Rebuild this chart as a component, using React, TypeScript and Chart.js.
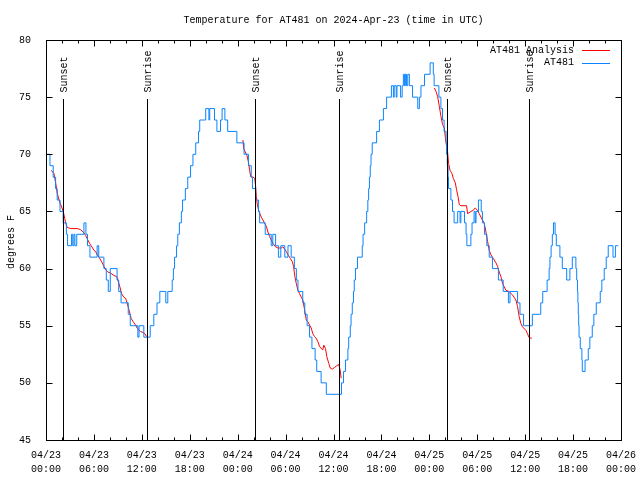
import { useEffect, useRef } from 'react';
import { Chart, registerables } from 'chart.js';

Chart.register(...registerables);

const TITLE = 'Temperature for AT481 on 2024-Apr-23 (time in UTC)';
const Y_LABEL = 'degrees F';

const xTickLabels: string[][] = [
  ['04/23', '00:00'], ['04/23', '06:00'], ['04/23', '12:00'], ['04/23', '18:00'],
  ['04/24', '00:00'], ['04/24', '06:00'], ['04/24', '12:00'], ['04/24', '18:00'],
  ['04/25', '00:00'], ['04/25', '06:00'], ['04/25', '12:00'], ['04/25', '18:00'],
  ['04/26', '00:00'],
];

// hours since 04/23 00:00 UTC
const eventHours = [2.15, 12.63, 26.2, 36.66, 50.16, 60.54];
const eventLabels = ['Sunset', 'Sunrise', 'Sunset', 'Sunrise', 'Sunset', 'Sunrise'];

const seriesNames = ['AT481 Analysis', 'AT481'];
const seriesColors = ['#ff0000', '#0a84ff'];

// Analysis (red), null = gap
const analysisHours = [
  0.66, 1.0, 1.09, 1.21, 1.41, 1.63, 1.84, 2.16, 2.34, 2.46, 2.66, 3.09, 3.91, 4.34, 4.66, 4.96,
  5.16, 5.46, 5.66, 6.0, 6.21, 6.41, 6.63, 6.84, 7.04, 7.25, 7.46, 7.75, 8.09, 8.5, 8.84, 9.0,
  9.25, 9.46, 9.75, 9.96, 10.16, 10.38, 10.5, 10.66, 10.91, 11.21, 11.41, 11.84, 12.16, 12.38, 12.59,
  12.6,
  24.66, 24.75, 25.16, 25.34, 25.5, 25.63, 25.91, 26.13, 26.25, 26.34, 26.46, 26.66, 26.96, 27.16,
  27.38, 27.59, 27.79, 28.0, 28.21, 28.41, 28.75, 29.04, 29.46, 29.66, 29.88, 30.09, 30.29, 30.59,
  30.84, 31.0, 31.16, 31.34, 31.54, 31.75, 31.96, 32.16, 32.38, 32.59, 32.79, 33.0, 33.21, 33.41,
  33.63, 33.84, 34.04, 34.25, 34.46, 34.66, 34.79, 35.0, 35.16, 35.41, 35.59, 35.84, 36.13, 36.41,
  36.66, 36.84, 36.96,
  37.0,
  48.63, 48.84, 49.04, 49.25, 49.46, 49.66, 49.88, 50.0, 50.09, 50.29, 50.41, 50.59, 50.84, 51.0,
  51.25, 51.41, 51.59, 51.75, 51.96, 52.66, 52.79, 53.21, 53.5, 53.75, 54.04, 54.25, 54.46, 54.66,
  54.88, 55.09, 55.29, 55.5, 55.71, 56.0, 56.34, 56.54, 56.75, 56.96, 57.16, 57.38, 57.59, 58.0,
  58.41, 58.84, 59.04, 59.25, 59.46, 59.66, 60.09, 60.29, 60.5, 60.84,
];
const analysisTemps: (number | null)[] = [
  68.6, 68.3, 67.9, 67.5, 66.6, 66.0, 65.6, 65.0, 64.4, 64.0, 63.6, 63.5, 63.5, 63.4, 63.2, 62.9,
  62.6, 62.2, 62.0, 61.6, 61.5, 61.2, 61.0, 60.75, 60.5, 60.2, 59.9, 59.7, 59.6, 59.4, 59.3, 59.0,
  58.4, 57.8, 57.5, 57.4, 57.0, 56.4, 56.1, 55.65, 55.35, 55.06, 54.8, 54.5, 54.4, 54.3, 54.05,
  null,
  71.25, 70.5, 69.9, 69.35, 68.6, 68.04, 68.0, 67.9, 67.2, 66.3, 65.6, 65.0, 64.5, 64.25,
  63.96, 63.7, 63.2, 62.8, 62.5, 62.2, 61.9, 61.8, 61.8, 61.9, 61.7, 61.5, 61.2, 60.9,
  60.6, 60.2, 59.3, 58.7, 58.1, 57.8, 57.5, 57.25, 56.4, 55.5, 55.35, 55.06, 54.8, 54.3,
  54.04, 53.9, 53.6, 53.2, 53.0, 52.9, 53.3, 53.0, 52.3, 51.7, 51.3, 51.2, 51.35, 51.5,
  51.6, 51.1, 50.4,
  null,
  75.8, 75.5, 75.04, 74.2, 73.3, 72.6, 72.3, 71.5, 71.0, 70.2, 69.2, 68.6, 68.3, 67.9,
  67.5, 66.9, 66.3, 65.6, 65.5, 65.5, 64.8, 65.0, 65.1, 65.3, 65.1, 64.8, 64.5, 64.25,
  63.96, 63.2, 62.4, 61.6, 61.2, 60.9, 60.5, 60.2, 59.7, 59.3, 58.7, 58.4, 58.1, 57.98,
  57.7, 57.25, 56.7, 55.8, 55.2, 54.9, 54.6, 54.3, 53.95, 53.9,
];

// Observations (blue): time at which the reading changes to the given value
const obsHours = [
  0, 0.5, 0.9, 1.2, 1.4, 1.75, 2.15, 2.55, 2.7, 3.2, 3.35, 3.5, 3.62, 3.85, 4.75, 5.0, 5.2, 5.5,
  6.4, 6.6, 7.25, 7.55, 7.8, 8.05, 8.9, 9.1, 9.4, 10.3, 10.55, 11.5, 11.65, 12.25, 13.05, 13.5,
  13.9, 14.25, 15.0, 15.25, 15.8, 15.95, 16.1, 16.35, 16.5, 16.7, 16.95, 17.1, 17.45, 17.75, 18.1,
  18.4, 18.75, 19.1, 19.25, 20.0, 20.4, 20.5, 21.1, 21.4, 21.85, 22.05, 22.4, 22.75, 23.9, 24.8,
  25.35, 25.7, 25.85, 26.25, 26.6, 26.75, 27.45, 28.2, 28.4, 28.75, 29.1, 29.4, 29.9, 30.3, 30.7,
  31.1, 31.35, 31.55, 32.15, 32.4, 32.7, 33.0, 33.3, 33.7, 33.9, 34.45, 35.1, 37.0, 37.25, 37.5,
  37.8, 37.9, 38.1, 38.2, 38.35, 38.5, 38.6, 38.75, 39.0, 39.6, 39.7, 39.9, 40.15, 40.3, 40.4,
  40.5, 40.6, 40.7, 40.85, 41.4, 41.75, 42.25, 42.65, 43.25, 43.5, 43.6, 43.85, 43.95, 44.4, 44.6,
  44.75, 44.9, 45.0, 45.15, 45.3, 45.5, 45.9, 46.55, 46.75, 46.95, 47.4, 48.1, 48.5, 48.6, 49.2,
  49.45, 49.65, 49.85, 50.1, 50.15, 50.25, 50.35, 50.4, 50.7, 50.9, 51.1, 51.55, 51.85, 51.95,
  52.4, 52.6, 52.7, 53.2, 53.35, 53.6, 53.75, 53.85, 54.15, 54.5, 54.65, 54.9, 55.2, 55.5, 55.9,
  56.65, 57.25, 57.9, 58.1, 59.05, 59.35, 59.8, 60.9, 61.95, 62.2, 62.75, 63.0, 63.1, 63.25,
  63.4, 63.55, 63.75, 63.9, 64.35, 64.65, 65.2, 65.6, 65.9, 66.35, 66.45, 66.55, 66.6, 66.65,
  66.7, 66.75, 66.9, 67.1, 67.15, 67.5, 67.9, 68.1, 68.4, 68.6, 68.9, 69.4, 69.6, 69.9, 70.15,
  70.4, 71.0, 71.3, 71.65,
];
const obsTemps = [
  70, 69, 68, 67, 66, 65, 64, 63, 62, 63, 62, 63, 62, 63, 64, 63, 62, 61,
  62, 61, 60, 59, 58, 60, 59, 58, 57, 56, 55, 54, 55, 54, 55, 56,
  57, 58, 57, 58, 59, 60, 61, 62, 63, 64, 65, 66, 67, 68, 69,
  70, 71, 72, 73, 74, 73, 74, 73, 72, 73, 74, 73, 72, 71, 70,
  69, 68, 67, 66, 65, 64, 63, 62, 63, 62, 61, 62, 61, 62, 61,
  60, 59, 58, 57, 56, 55, 54, 53, 52, 51, 50, 49, 50, 51, 52,
  53, 54, 55, 56, 57, 58, 59, 60, 61, 62, 63, 64, 65, 66, 67,
  68, 69, 70, 71, 72, 73, 74, 75, 76, 75, 76, 75, 76, 75, 76,
  77, 76, 77, 76, 77, 76, 75, 74, 75, 76, 77, 78, 77, 76, 75,
  74, 73, 72, 71, 70, 69, 68, 67, 66, 65, 64, 65, 64, 65,
  64, 63, 62, 63, 64, 65, 64, 65, 66, 65, 64, 63, 62, 61, 60,
  59, 58, 57, 58, 57, 56, 55, 56, 57, 58, 59, 60, 61, 62,
  63, 64, 63, 62, 61, 60, 59, 60, 61, 60, 59, 58, 57, 56,
  55, 54, 53, 52, 51, 52, 53, 54, 55, 56, 57, 58, 59, 60, 61,
  62, 61, 62, 62,
];

const FONT_FAMILY = "'Liberation Mono', 'DejaVu Sans Mono', monospace";
const FONT = `10px ${FONT_FAMILY}`;

const decorPlugin = {
  id: 'gnuplotDecor',
  afterDatasetsDraw(chart: any) {
    const { ctx, chartArea: a, scales } = chart;
    const xs = scales.x;
    const ys = scales.y;
    const L = Math.round(a.left) + 0.5;
    const R = Math.round(a.right) + 0.5;
    const T = Math.round(a.top) + 0.5;
    const B = Math.round(a.bottom) + 0.5;
    ctx.save();
    ctx.strokeStyle = '#000';
    ctx.fillStyle = '#000';
    ctx.lineWidth = 1;

    // event lines + labels
    ctx.font = FONT;
    eventHours.forEach((h, i) => {
      const px = Math.round(xs.getPixelForValue(h)) + 0.5;
      ctx.beginPath();
      ctx.moveTo(px, B);
      ctx.lineTo(px, a.top + 59);
      ctx.stroke();
      ctx.save();
      ctx.translate(px + 1, a.top + 52.5);
      ctx.rotate(-Math.PI / 2);
      ctx.textAlign = 'left';
      ctx.textBaseline = 'middle';
      ctx.fillText(eventLabels[i], 0, 0);
      ctx.restore();
    });

    // frame
    ctx.strokeRect(L, T, R - L, B - T);

    // x ticks (inward, mirrored)
    ctx.beginPath();
    for (let v = xs.min; v <= xs.max + 1e-9; v += 2) {
      const px = Math.round(xs.getPixelForValue(v)) + 0.5;
      const len = Math.abs(v % 6) < 1e-9 ? 6 : 3;
      ctx.moveTo(px, B);
      ctx.lineTo(px, B - len);
      ctx.moveTo(px, T);
      ctx.lineTo(px, T + len);
    }
    // y ticks
    for (let v = ys.min; v <= ys.max + 1e-9; v += 5) {
      const py = Math.round(ys.getPixelForValue(v)) + 0.5;
      ctx.moveTo(L, py);
      ctx.lineTo(L + 6, py);
      ctx.moveTo(R, py);
      ctx.lineTo(R - 6, py);
    }
    ctx.stroke();

    // title
    ctx.textAlign = 'center';
    ctx.textBaseline = 'middle';
    ctx.fillText(TITLE, (a.left + a.right) / 2, 20.5);

    // y label
    ctx.save();
    ctx.translate(11, (a.top + a.bottom) / 2 + 2);
    ctx.rotate(-Math.PI / 2);
    ctx.textAlign = 'center';
    ctx.textBaseline = 'middle';
    ctx.fillText(Y_LABEL, 0, 0);
    ctx.restore();

    // legend
    seriesNames.forEach((name, i) => {
      const ly = 50 + i * 12.5;
      ctx.textAlign = 'right';
      ctx.textBaseline = 'middle';
      ctx.fillStyle = '#000';
      ctx.fillText(name, 574, ly);
      ctx.strokeStyle = seriesColors[i];
      ctx.beginPath();
      ctx.moveTo(582, Math.round(ly) + 0.5);
      ctx.lineTo(610, Math.round(ly) + 0.5);
      ctx.stroke();
    });

    ctx.restore();
  },
};

export default function App() {
  const canvasRef = useRef<HTMLCanvasElement | null>(null);

  useEffect(() => {
    if (!canvasRef.current) return;
    const analysisData = analysisHours.map((h, i) => ({ x: h, y: analysisTemps[i] }));
    const obsData = obsHours.map((h, i) => ({ x: h, y: obsTemps[i] }));
    const chart = new Chart(canvasRef.current, {
      type: 'line',
      data: {
        datasets: [
          {
            label: seriesNames[0],
            data: analysisData,
            borderColor: seriesColors[0],
            backgroundColor: seriesColors[0],
            borderWidth: 1,
            pointRadius: 0,
            tension: 0,
            spanGaps: false,
            order: 2,
          },
          {
            label: seriesNames[1],
            data: obsData,
            borderColor: seriesColors[1],
            backgroundColor: seriesColors[1],
            borderWidth: 1,
            pointRadius: 0,
            stepped: 'before',
            order: 1,
          },
        ],
      },
      options: {
        animation: false,
        responsive: false,
        devicePixelRatio: 1,
        events: [],
        layout: { padding: { left: 0, top: 40, right: 19, bottom: 0 } },
        plugins: {
          legend: { display: false },
          title: { display: false },
          tooltip: { enabled: false },
        },
        scales: {
          x: {
            type: 'linear',
            min: 0,
            max: 72,
            grid: { display: false },
            border: { display: false },
            ticks: {
              stepSize: 6,
              autoSkip: false,
              maxRotation: 0,
              minRotation: 0,
              padding: 0,
              color: '#000',
              font: { family: FONT_FAMILY, size: 10, lineHeight: 1.4 },
              callback: (value: any) => xTickLabels[Math.round(Number(value) / 6)],
            },
            afterFit: (scale: any) => {
              scale.height = 40;
              scale.paddingLeft = 0;
              scale.paddingRight = 0;
            },
          },
          y: {
            type: 'linear',
            min: 45,
            max: 80,
            grid: { display: false },
            border: { display: false },
            ticks: {
              stepSize: 5,
              padding: 7,
              color: '#000',
              font: { family: FONT_FAMILY, size: 10 },
            },
            afterFit: (scale: any) => {
              scale.width = 46;
              scale.paddingTop = 0;
              scale.paddingBottom = 0;
            },
          },
        },
      },
      plugins: [decorPlugin],
    });
    return () => chart.destroy();
  }, []);

  return (
    <div style={{ position: 'fixed', left: 0, top: 0, width: 640, height: 480, background: '#fff' }}>
      <canvas ref={canvasRef} width={640} height={480} style={{ display: 'block' }} />
    </div>
  );
}
